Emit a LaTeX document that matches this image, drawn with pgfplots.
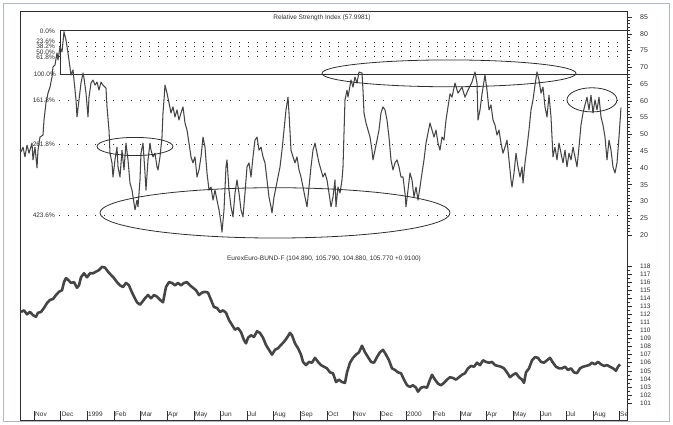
\documentclass[border=0pt]{standalone}
\usepackage{pgfplots}
\pgfplotsset{compat=1.18}
\usepackage{fontspec}
\setmainfont{Liberation Sans}
\definecolor{curve}{HTML}{454545}
\definecolor{framec}{HTML}{2E2E2E}
\definecolor{bordc}{HTML}{AEB8CA}
\definecolor{txt}{HTML}{303030}

\pgfplotstableread{
x v
20 45.5
21 44.8
23 46.2
25 43.3
27 46.8
29 44.4
32 47.4
33 42.4
35 46.2
37 40.0
38 45.3
40 49.2
43 49.8
44 54.3
46 59.4
48 62.3
50 64.1
52 67.1
53 70.1
55 70.7
57 74.3
58 72.2
60 76.1
62 74.6
64 80.6
66 78.1
68 74.3
71 67.7
73 69.2
74 66.2
76 60.3
77 55.2
79 60.3
81 65.3
83 68.3
84 66.8
86 62.3
88 55.2
89 61.1
91 65.3
93 66.2
95 64.7
97 65.6
99 63.2
101 65.6
103 64.7
106 63.8
107 58.2
109 51.3
110 44.4
112 41.5
113 37.3
115 42.4
117 46.2
118 40.3
120 37.3
122 45.3
124 39.4
126 47.4
128 42.4
130 35.5
132 33.4
134 29.5
135 27.5
137 30.4
138 28.4
140 36.4
141 44.4
143 47.4
145 38.5
146 33.4
148 42.4
150 47.4
151 45.3
153 43.3
155 44.4
157 40.3
158 39.4
160 43.3
162 49.2
163 56.4
164 60.3
165 64.7
167 62.3
169 59.4
171 56.4
173 58.2
175 55.2
177 57.3
179 54.3
181 56.4
183 58.2
185 53.4
187 51.3
189 47.4
191 43.3
193 41.5
195 43.3
197 37.3
199 39.4
201 43.3
203 49.2
205 46.2
207 38.5
209 33.4
211 34.3
213 30.4
215 33.4
217 30.4
219 27.5
221 23.6
222 20.9
224 27.5
226 40.3
227 42.4
229 33.4
231 28.4
233 25.4
235 32.5
237 36.4
239 32.5
241 27.5
243 25.4
245 32.5
247 40.3
249 41.5
251 37.3
253 43.3
255 48.3
257 49.2
259 45.3
261 46.2
263 43.3
265 41.5
267 36.4
269 31.3
271 28.4
272 26.6
274 31.3
276 34.3
278 37.3
280 40.3
282 45.3
284 51.3
286 57.3
288 61.1
289 56.4
291 45.3
293 43.3
295 41.5
297 43.3
299 39.4
301 37.3
303 34.3
305 31.3
307 28.4
309 34.3
311 40.3
313 45.3
315 47.4
317 44.4
319 41.5
321 39.4
323 37.3
325 38.5
327 36.4
329 32.5
331 28.4
333 31.3
335 36.4
336 28.4
338 34.3
340 32.5
342 36.4
343 40.3
344 50.4
345 60.3
347 63.2
348 61.1
351 66.2
353 64.1
355 67.1
357 65.3
359 68.6
362 68.3
363 63.2
364 56.4
366 53.4
368 51.3
370 49.2
372 45.3
373 42.4
375 45.3
377 48.3
379 51.3
381 56.4
383 58.2
385 57.3
387 54.3
389 49.2
391 42.4
393 39.4
395 41.5
397 42.4
399 40.3
401 37.3
403 37.3
405 32.5
406 28.4
408 33.4
410 38.5
412 36.4
414 31.3
416 34.3
418 30.4
420 34.3
422 38.5
424 42.4
426 47.4
428 50.4
430 53.4
432 51.3
434 49.2
436 51.3
438 47.4
440 45.3
442 49.2
444 48.3
446 54.3
448 58.2
450 62.1
452 61.1
455 65.3
458 62.3
462 64.1
465 61.1
468 63.2
472 65.6
475 68.6
477 65.3
478 54.3
480 57.3
482 62.0
485 67.7
487 63.2
489 57.3
491 58.8
493 54.3
495 52.8
497 49.8
499 51.3
501 47.4
503 44.4
505 46.2
507 48.3
509 42.4
511 36.4
512 34.3
514 38.5
516 44.4
518 40.3
520 37.3
522 40.3
523 35.5
525 41.5
527 46.2
529 51.3
531 57.3
533 60.3
535 64.7
537 68.6
539 66.2
541 62.3
543 64.1
545 58.2
547 55.2
549 61.7
551 55.2
553 43.3
555 46.2
557 42.4
559 47.4
561 44.4
563 41.5
565 45.3
567 40.3
569 44.4
571 42.4
573 46.2
575 43.3
577 40.3
579 46.2
581 52.8
583 56.4
585 58.8
587 61.1
589 57.3
591 61.7
593 56.4
595 60.3
597 57.3
599 61.1
601 55.2
603 52.8
605 49.2
607 42.4
609 48.3
611 45.3
613 40.3
615 38.5
617 41.5
619 49.2
621 58.0
}\rsi

\pgfplotstableread{
x v
21 112.3
24 112.5
27 112.0
30 112.3
33 111.9
36 111.7
38 112.2
41 112.3
44 112.8
47 113.4
50 113.8
53 113.9
56 114.4
59 114.8
62 115.0
64 116.0
66 116.5
68 116.3
71 115.9
74 116.0
77 115.3
79 115.6
81 116.6
84 117.1
87 116.6
90 117.1
93 117.1
96 117.3
99 117.5
102 117.9
105 117.8
108 117.3
111 116.9
114 116.5
117 116.0
120 115.6
123 115.4
126 115.9
129 115.6
131 115.0
134 114.2
137 113.5
140 113.2
142 113.5
145 114.0
148 114.4
151 114.0
154 114.4
157 114.2
160 113.8
163 113.5
166 115.4
169 116.0
172 115.9
175 115.6
178 115.9
181 115.6
184 115.9
187 116.0
190 115.6
193 115.3
196 115.0
199 114.4
202 114.7
205 114.8
208 114.7
211 113.8
214 112.9
217 112.8
220 112.3
223 112.5
226 112.2
229 111.3
232 110.7
235 110.1
238 110.3
241 109.8
244 108.8
246 108.4
248 109.1
251 109.4
254 109.2
257 109.9
260 109.7
263 109.1
266 108.2
269 107.6
272 107.0
275 107.6
278 107.8
281 108.2
284 108.6
287 109.1
290 109.7
292 109.4
295 108.4
298 107.8
301 107.0
303 106.1
306 105.7
309 106.1
312 106.0
315 106.6
318 106.1
321 105.7
324 105.5
327 105.3
330 104.8
333 104.7
336 103.6
339 103.9
342 103.6
345 103.5
347 104.8
350 106.0
353 106.6
356 107.0
359 107.3
362 108.1
365 107.3
368 106.7
371 106.1
374 106.0
377 106.7
380 107.3
383 107.6
386 107.0
389 106.3
392 105.3
395 105.1
398 104.8
401 104.7
404 103.9
407 103.2
410 103.0
413 103.2
416 102.9
418 102.4
421 102.9
424 103.0
427 102.9
430 103.9
432 104.5
435 103.9
438 103.4
441 103.2
444 103.5
447 103.9
450 104.2
453 104.1
456 103.9
459 104.2
462 104.5
465 104.7
468 105.3
471 105.6
474 105.5
477 106.0
480 105.7
483 106.3
486 106.1
489 106.0
492 106.1
495 105.7
498 105.6
501 105.5
504 105.3
507 104.8
510 104.2
513 104.5
516 104.7
519 104.2
522 103.9
524 103.5
526 104.8
529 105.3
532 106.3
535 106.7
538 106.6
541 106.1
544 106.0
547 106.3
550 106.6
553 106.0
556 105.5
559 105.3
562 105.3
565 105.5
568 105.1
571 105.3
574 104.8
577 104.7
580 105.3
583 105.5
586 105.6
589 105.7
592 106.0
595 105.8
598 106.1
601 105.8
604 105.6
607 105.7
610 105.5
613 105.3
616 105.0
618 105.5
620 105.8
}\bund

\begin{document}
\begin{tikzpicture}[x=1pt,y=1pt]
\useasboundingbox (0,0) rectangle (673,425);
\draw[bordc, line width=1.6pt] (3.5,3.5) rectangle (669.5,421.5);
\draw[framec, line width=0.8pt] (20,5) rectangle (627,414);

% ---------- RSI panel ----------
\begin{axis}[
  at={(20pt,175pt)}, anchor=south west,
  width=607pt, height=239pt, scale only axis,
  xmin=20, xmax=627, ymin=15.53, ymax=86.79,
  axis x line=none, axis y line*=right,
  y axis line style={framec, line width=0.8pt},
  ytick={20,25,...,85}, minor y tick num=4,
  tick align=outside, major tick length=5pt, minor tick length=2.5pt,
  every tick/.style={framec, line width=0.5pt},
  yticklabel style={font=\fontsize{7}{8}\selectfont, text=txt, anchor=west, xshift=8pt, inner sep=0pt},
  /pgf/number format/assume math mode=true,
  clip=false,
]
% Fibonacci levels
\draw[framec, line width=0.8pt] (axis cs:60,68.0) -- (axis cs:60,81.0) -- (axis cs:627,81.0);
\draw[framec, line width=0.8pt] (axis cs:60,68.0) -- (axis cs:627,68.0);
\foreach \lv in {77.5,76.1,74.6,73.1,60.1,47.0,25.8}{
  \edef\tmp{\noexpand\draw[framec, line width=0.9pt, dash pattern=on 1.2pt off 7.8pt] (axis cs:59,\lv) -- (axis cs:623,\lv);}\tmp
}
\addplot[curve, line width=1.05pt, line join=round] table[x=x,y=v] {\rsi};
% ellipses
\draw[framec, line width=0.8pt] (axis cs:135,46.4) ellipse [x radius=38, y radius=2.7];
\draw[framec, line width=0.8pt] (axis cs:275,26.6) ellipse [x radius=175, y radius=7.5];
\draw[framec, line width=0.8pt] (axis cs:449,68.2) ellipse [x radius=127, y radius=4.0];
\draw[framec, line width=0.8pt] (axis cs:592,60.3) ellipse [x radius=25, y radius=3.6];
\end{axis}

% ---------- Bund panel ----------
\begin{axis}[
  at={(20pt,5pt)}, anchor=south west,
  width=607pt, height=170pt, scale only axis,
  xmin=20, xmax=627, ymin=98.89, ymax=119.99,
  axis x line=none, axis y line*=right,
  y axis line style={framec, line width=0.8pt},
  ytick={101,102,...,118}, minor y tick num=1,
  tick align=outside, major tick length=5pt, minor tick length=2.5pt,
  every tick/.style={framec, line width=0.5pt},
  yticklabel style={font=\fontsize{6.5}{7}\selectfont, text=txt, anchor=west, xshift=8pt, inner sep=0pt},
  /pgf/number format/assume math mode=true,
  clip=false,
]
\addplot[curve, line width=2.6pt, line join=round] table[x=x,y=v] {\bund};
\end{axis}

% ---------- date strip ----------
\begin{axis}[
  at={(20pt,5pt)}, anchor=south west,
  width=607pt, height=170pt, scale only axis,
  xmin=20, xmax=627, ymin=0, ymax=1,
  axis y line=none, axis x line*=bottom,
  x axis line style={framec, line width=0.8pt},
  xtick={34,60.6,87,114,140,167,194,220,247,273,300,327,353,380,406,433,460,486,513,540,566,593,619},
  xticklabels={Nov,Dec,1999,Feb,Mar,Apr,May,Jun,Jul,Aug,Sep,Oct,Nov,Dec,2000,Feb,Mar,Apr,May,Jun,Jul,Aug,Se},
  minor x tick num=3,
  tick align=inside, major tick length=9pt, minor tick length=2pt,
  every tick/.style={framec, line width=0.6pt},
  minor x tick style={yshift=6pt},
  xticklabel style={font=\fontsize{6.5}{7}\selectfont, text=txt, anchor=base west, yshift=3pt, xshift=0.5pt, inner sep=0.5pt},
]
\end{axis}

% ---------- texts ----------
\node[font=\fontsize{6.5}{7}\selectfont, text=txt] at (322,407) {Relative Strength Index (57.9981)};
\node[font=\fontsize{6.5}{7}\selectfont, text=txt] at (324,166) {EurexEuro-BUND-F (104.890, 105.790, 104.880, 105.770 +0.9100)};
\begin{scope}[every node/.style={font=\fontsize{6.5}{6.5}\selectfont, text=txt, anchor=east, inner sep=0pt}]
\node at (55,394) {0.0\%};
\node at (55,383.5) {23.6\%};
\node at (55,378.3) {38.2\%};
\node at (55,373.1) {50.0\%};
\node at (55,367.9) {61.8\%};
\node at (56,350.5) {100.0\%};
\node at (55,324.5) {161.8\%};
\node at (55,281) {261.8\%};
\node at (55,209.5) {423.6\%};
\end{scope}
\end{tikzpicture}
\end{document}
